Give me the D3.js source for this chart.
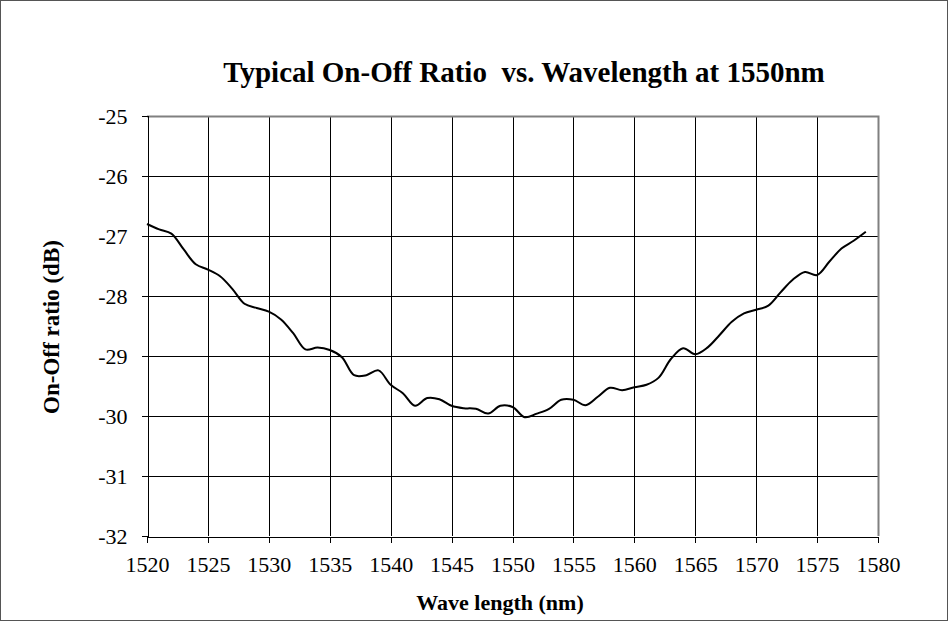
<!DOCTYPE html>
<html>
<head>
  <meta charset="utf-8">
  <title>Typical On-Off Ratio vs. Wavelength</title>
  <script src="https://cdn.jsdelivr.net/npm/d3@7"></script>
  <style>
    body { margin: 0; background: #fff; }
    text { font-family: "Liberation Serif", "Times New Roman", serif; fill: #000; }
    .axis path, .axis line { stroke: #000; shape-rendering: crispEdges; }
    .grid line { stroke: #000; shape-rendering: crispEdges; }
  </style>
</head>
<body>
<script>
  // wavelength in nm, 1 nm steps
  var wavelengths = d3.range(1520, 1580);
  // on-off ratio in dB
  var ratios = [
    -26.80, -26.89, -26.96, -27.22, -27.47, -27.56, -27.67, -27.88, -28.13, -28.20,
    -28.26, -28.39, -28.62, -28.89, -28.86, -28.90, -29.02, -29.32, -29.32, -29.24,
    -29.48, -29.62, -29.83, -29.70, -29.72, -29.83, -29.87, -29.88, -29.96, -29.83,
    -29.85, -30.02, -29.96, -29.88, -29.73, -29.73, -29.82, -29.68, -29.53, -29.57,
    -29.52, -29.48, -29.36, -29.05, -28.87, -28.97, -28.86, -28.65, -28.43, -28.29,
    -28.23, -28.16, -27.94, -27.73, -27.60, -27.65, -27.43, -27.21, -27.08, -26.93
  ];
  var xTicks = d3.range(1520, 1581, 5);
  var yTicks = d3.range(-32, -24, 1);

  var w = 948, h = 621;
  var m = { left: 147, right: 878, top: 116, bottom: 536 };

  var svg = d3.select("body").append("svg")
    .attr("width", w)
    .attr("height", h);

  // outer frame
  svg.append("rect")
    .attr("x", 0.5).attr("y", 0.5)
    .attr("width", w - 1).attr("height", h - 1)
    .attr("fill", "#fff")
    .attr("stroke", "#555");

  var x = d3.scaleLinear().domain([1520, 1580]).range([m.left, m.right]);
  var y = d3.scaleLinear().domain([-32, -25]).range([m.bottom, m.top]);

  // grid
  svg.append("g").attr("class", "grid")
    .selectAll("line")
    .data(xTicks.slice(1, -1))
    .enter().append("line")
    .attr("x1", function (d) { return Math.round(x(d)) + 0.5; })
    .attr("x2", function (d) { return Math.round(x(d)) + 0.5; })
    .attr("y1", m.top).attr("y2", m.bottom);

  svg.append("g").attr("class", "grid")
    .selectAll("line")
    .data(yTicks.slice(1, -1))
    .enter().append("line")
    .attr("y1", function (d) { return Math.round(y(d)) + 0.5; })
    .attr("y2", function (d) { return Math.round(y(d)) + 0.5; })
    .attr("x1", m.left).attr("x2", m.right);

  // top and right border in grey
  svg.append("path")
    .attr("d", "M" + m.left + "," + (m.top + 0.5) + "H" + (m.right + 0.5) + "V" + m.bottom)
    .attr("fill", "none")
    .attr("stroke", "#808080")
    .attr("stroke-width", 2);

  var fmt = function (d) { return String(d); };
  var xAxis = d3.axisBottom(x).tickValues(xTicks).tickSizeOuter(0).tickSize(6).tickPadding(14)
    .tickFormat(fmt);
  var yAxis = d3.axisLeft(y).tickValues(yTicks).tickSizeOuter(0).tickSize(6).tickPadding(14)
    .tickFormat(fmt);

  svg.append("g")
    .attr("class", "axis")
    .attr("transform", "translate(0," + (m.bottom + 0.5) + ")")
    .call(xAxis)
    .attr("font-family", "Liberation Serif")
    .attr("font-size", 22);

  svg.append("g")
    .attr("class", "axis")
    .attr("transform", "translate(" + (m.left + 0.5) + ",0)")
    .call(yAxis)
    .attr("font-family", "Liberation Serif")
    .attr("font-size", 22);

  var line = d3.line()
    .x(function (d, i) { return x(wavelengths[i]); })
    .y(function (d) { return y(d); })
    .curve(d3.curveCatmullRom.alpha(0.5));

  svg.append("path")
    .datum(ratios)
    .attr("d", line)
    .attr("fill", "none")
    .attr("stroke", "#000")
    .attr("stroke-width", 2);

  // titles
  svg.append("text")
    .attr("x", 524).attr("y", 82)
    .attr("text-anchor", "middle")
    .attr("xml:space", "preserve")
    .style("white-space", "pre")
    .style("font-size", "29px")
    .style("font-weight", "bold")
    .text("Typical On-Off Ratio  vs. Wavelength at 1550nm");

  svg.append("text")
    .attr("x", 500).attr("y", 610)
    .attr("text-anchor", "middle")
    .style("font-size", "22px")
    .style("font-weight", "bold")
    .text("Wave length (nm)");

  svg.append("text")
    .attr("transform", "translate(59,327) rotate(-90)")
    .attr("text-anchor", "middle")
    .style("font-size", "23px")
    .style("font-weight", "bold")
    .text("On-Off ratio (dB)");
</script>
</body>
</html>
